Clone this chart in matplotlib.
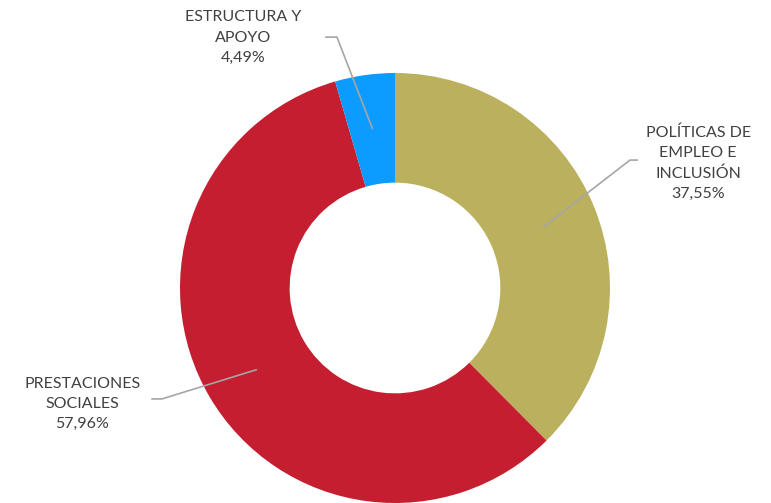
import matplotlib.pyplot as plt
import numpy as np

labels = ["POLÍTICAS DE\nEMPLEO E\nINCLUSIÓN", "PRESTACIONES\nSOCIALES", "ESTRUCTURA Y\nAPOYO"]
values = [37.55, 57.96, 4.49]
colors = ["#BBB05E", "#C41E30", "#0C9BFF"]

# elbow of leader line and label centre, in axes data units
elbows = [(1.093, 0.595), (-1.084, -0.516), (-0.27, 1.167)]
ends = [(1.126, 0.595), (-1.13, -0.516), (-0.321, 1.167)]
text_pos = [(1.41, 0.58), (-1.455, -0.54), (-0.707, 1.165)]

plt.rcParams['font.family'] = ['Lato', 'DejaVu Sans']

fig = plt.figure(figsize=(7.71, 5.03), dpi=100)
ax = fig.add_axes([180 / 771, 0 / 503, 430 / 771, 430 / 503])

wedges, _ = ax.pie(values, colors=colors, startangle=90, counterclock=False,
                   radius=1.0, wedgeprops=dict(width=0.51, linewidth=0))
ax.set_xlim(-1, 1)
ax.set_ylim(-1, 1)
ax.set_aspect('equal')
ax.axis('off')

total = sum(values)
start = 90.0
for i, v in enumerate(values):
    mid = np.deg2rad(start - v / total * 360 / 2)
    start -= v / total * 360
    ax_x, ax_y = 0.75 * np.cos(mid), 0.75 * np.sin(mid)
    xs = [ax_x, elbows[i][0], ends[i][0]]
    ys = [ax_y, elbows[i][1], ends[i][1]]
    ax.plot(xs, ys, color="#A6A6A6", lw=1.2, clip_on=False)
    txt = labels[i] + "\n" + f"{v:.2f}%".replace(".", ",")
    ax.text(text_pos[i][0], text_pos[i][1], txt, ha='center', va='center',
            fontsize=11.5, color="#404040", linespacing=1.55)

fig.savefig("out.png", dpi=100)
